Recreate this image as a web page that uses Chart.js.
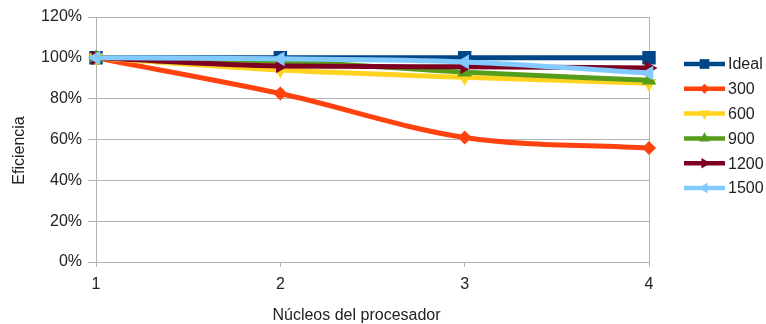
<!DOCTYPE html>
<html>
<head>
<meta charset="utf-8">
<script src="https://cdn.jsdelivr.net/npm/chart.js@4/dist/chart.umd.min.js"></script>
<style>
html,body{margin:0;padding:0;background:#fff;}
#wrap{width:766px;height:324px;}
</style>
</head>
<body>
<div id="wrap"><canvas id="c" width="766" height="324"></canvas></div>
<script>
const cores = ['1', '2', '3', '4'];
const seriesNames = ['Ideal', '300', '600', '900', '1200', '1500'];
const ideal = [100, 100, 100, 100];
const s300 = [100, 82.5, 61, 55.8];
const s600 = [100, 94, 90.5, 87.5];
const s900 = [100, 98.3, 93, 89];
const s1200 = [100, 96, 95.6, 95];
const s1500 = [100, 99.5, 98, 92.5];
const yTicks = [0, 20, 40, 60, 80, 100, 120];
const xTitle = 'Núcleos del procesador';
const yTitle = 'Eficiencia';

const colors = ['#004586', '#ff420e', '#ffd320', '#579d1c', '#7e0021', '#83caff'];
const styles = [
  {pointStyle: 'rect', rotation: 0, radius: 9.5},
  {pointStyle: 'rectRot', rotation: 0, radius: 7},
  {pointStyle: 'triangle', rotation: 180, radius: 8.5},
  {pointStyle: 'triangle', rotation: 0, radius: 8.5},
  {pointStyle: 'triangle', rotation: 90, radius: 8.5},
  {pointStyle: 'triangle', rotation: 270, radius: 8.5}
];
const values = [ideal, s300, s600, s900, s1200, s1500];

const datasets = values.map((v, i) => ({
  label: seriesNames[i],
  data: v,
  borderColor: colors[i],
  backgroundColor: colors[i],
  borderWidth: 5,
  pointStyle: styles[i].pointStyle,
  rotation: styles[i].rotation,
  pointRadius: styles[i].radius,
  pointHoverRadius: styles[i].radius,
  pointBorderWidth: 0,
  cubicInterpolationMode: 'monotone',
  order: values.length - i
}));

const family = '"Liberation Sans", Arial, sans-serif';
const textColor = '#222';
const gridColor = '#b3b3b3';

const framePlugin = {
  id: 'frame',
  beforeDatasetsDraw(chart) {
    const {ctx, chartArea} = chart;
    ctx.save();
    ctx.strokeStyle = gridColor;
    ctx.lineWidth = 1;
    ctx.beginPath();
    ctx.moveTo(Math.round(chartArea.right) + 0.5, chartArea.top);
    ctx.lineTo(Math.round(chartArea.right) + 0.5, chartArea.bottom);
    ctx.stroke();
    ctx.restore();
  }
};

const titlesPlugin = {
  id: 'titles',
  afterDraw(chart) {
    const {ctx, chartArea} = chart;
    ctx.save();
    ctx.fillStyle = textColor;
    ctx.font = '16px ' + family;
    ctx.textAlign = 'center';
    ctx.textBaseline = 'middle';
    ctx.fillText(xTitle, (chartArea.left + chartArea.right) / 2 - 16, 316);
    ctx.translate(20, (chartArea.top + chartArea.bottom) / 2 + 11);
    ctx.rotate(-Math.PI / 2);
    ctx.fillText(yTitle, 0, 0);
    ctx.restore();
  }
};

const legendPlugin = {
  id: 'customLegend',
  afterDraw(chart) {
    const {ctx, chartArea} = chart;
    const x0 = chartArea.right + 35;
    const y0 = chartArea.top + 47;
    const step = 24.8;
    ctx.save();
    chart.data.datasets.forEach((ds, i) => {
      const y = y0 + i * step;
      ctx.strokeStyle = ds.borderColor;
      ctx.lineWidth = 4.5;
      ctx.beginPath();
      ctx.moveTo(x0, y);
      ctx.lineTo(x0 + 41, y);
      ctx.stroke();
      ctx.fillStyle = ds.backgroundColor;
      Chart.helpers.drawPoint(ctx, {
        pointStyle: ds.pointStyle,
        rotation: ds.rotation,
        radius: ds.pointRadius * 0.72,
        borderWidth: 0
      }, x0 + 20.5, y);
      ctx.fillStyle = textColor;
      ctx.font = '16px ' + family;
      ctx.textBaseline = 'middle';
      ctx.textAlign = 'left';
      ctx.fillText(ds.label, x0 + 44, y + 1);
    });
    ctx.restore();
  }
};

new Chart(document.getElementById('c'), {
  type: 'line',
  data: {labels: cores, datasets: datasets},
  options: {
    responsive: false,
    animation: false,
    layout: {padding: {left: 0, top: 17, right: 117, bottom: 0}},
    plugins: {legend: {display: false}, tooltip: {enabled: false}},
    scales: {
      x: {
        type: 'category',
        offset: false,
        grid: {display: true, drawOnChartArea: false, color: gridColor, tickLength: 5},
        border: {color: gridColor},
        ticks: {color: textColor, font: {family: family, size: 16}, padding: 8, maxRotation: 0},
        afterFit(axis) { axis.height = 62; }
      },
      y: {
        min: 0, max: 120,
        afterBuildTicks(axis) { axis.ticks = yTicks.map(v => ({value: v})); },
        grid: {color: gridColor, tickLength: 8},
        border: {color: gridColor},
        ticks: {color: textColor, font: {family: family, size: 16}, padding: 6, callback: v => v + '%'},
        afterFit(axis) { axis.width = 96; }
      }
    }
  },
  plugins: [framePlugin, titlesPlugin, legendPlugin]
});
</script>
</body>
</html>
